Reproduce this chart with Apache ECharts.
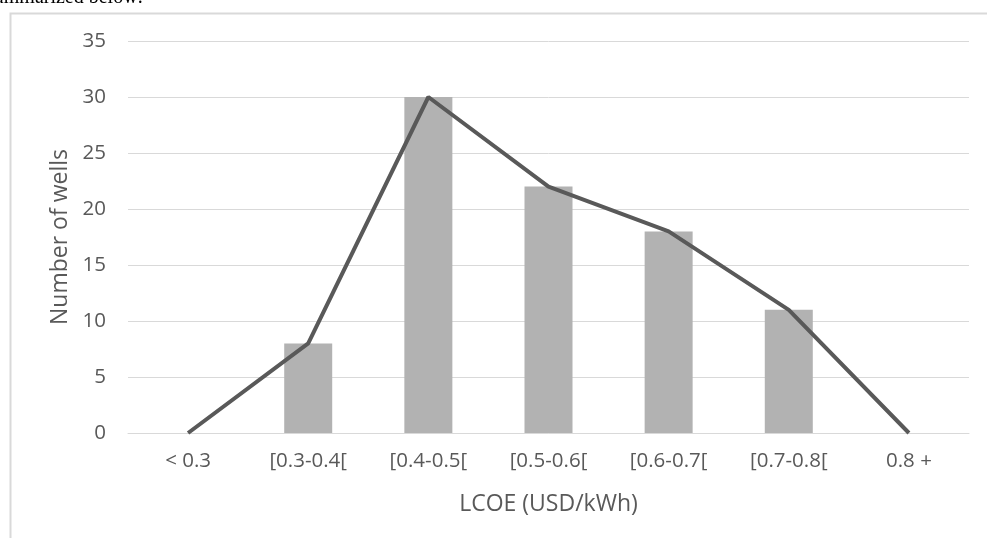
<!DOCTYPE html>
<html><head><meta charset="utf-8">
<script src="https://cdn.jsdelivr.net/npm/echarts@6/dist/echarts.min.js"></script>
<style>html,body{margin:0;padding:0;background:#fff}#c{width:987px;height:538px}</style>
</head><body><div id="c"></div>
<script>
const categories = ['< 0.3', '[0.3-0.4[', '[0.4-0.5[', '[0.5-0.6[', '[0.6-0.7[', '[0.7-0.8[', '0.8 +'];
const barValues = [null, 8, 30, 22, 18, 11, null];
const lineValues = [0, 8, 30, 22, 18, 11, 0];
const yTicks = {min: 0, max: 35, interval: 5};

const chart = echarts.init(document.getElementById('c'));
const font = '"Open Sans", "Noto Sans", sans-serif';
chart.setOption({
  animation: false,
  grid: {left: 128, right: 18, top: 41, bottom: 105, containLabel: false},
  graphic: [
    {type: 'rect', shape: {x: 10.5, y: 13.5, width: 1000, height: 600}, style: {fill: 'none', stroke: '#d9d9d9', lineWidth: 2}},
    {type: 'text', x: -14, y: -12, style: {text: 'summarized below:', font: '20px "Liberation Serif", serif', fill: '#000'}}
  ],
  xAxis: {
    type: 'category', data: categories,
    axisLine: {lineStyle: {color: '#d9d9d9', width: 1}},
    axisTick: {show: false},
    axisLabel: {color: '#595959', fontSize: 20.5, fontFamily: font, margin: 18},
    name: 'LCOE (USD/kWh)', nameLocation: 'middle', nameGap: 60,
    nameTextStyle: {color: '#595959', fontSize: 23, fontFamily: font}
  },
  yAxis: {
    type: 'value', min: yTicks.min, max: yTicks.max, interval: yTicks.interval,
    axisLine: {show: false}, axisTick: {show: false},
    splitLine: {lineStyle: {color: '#d9d9d9', width: 1}},
    axisLabel: {color: '#595959', fontSize: 20.5, fontFamily: font, margin: 22},
    name: 'Number of wells', nameLocation: 'middle', nameGap: 55,
    nameTextStyle: {color: '#595959', fontSize: 23, fontFamily: font}
  },
  series: [
    {type: 'bar', data: barValues, barWidth: 48, itemStyle: {color: '#b2b2b2'}},
    {type: 'line', data: lineValues, symbol: 'none', lineStyle: {color: '#595959', width: 4}, z: 5}
  ]
});
</script></body></html>
